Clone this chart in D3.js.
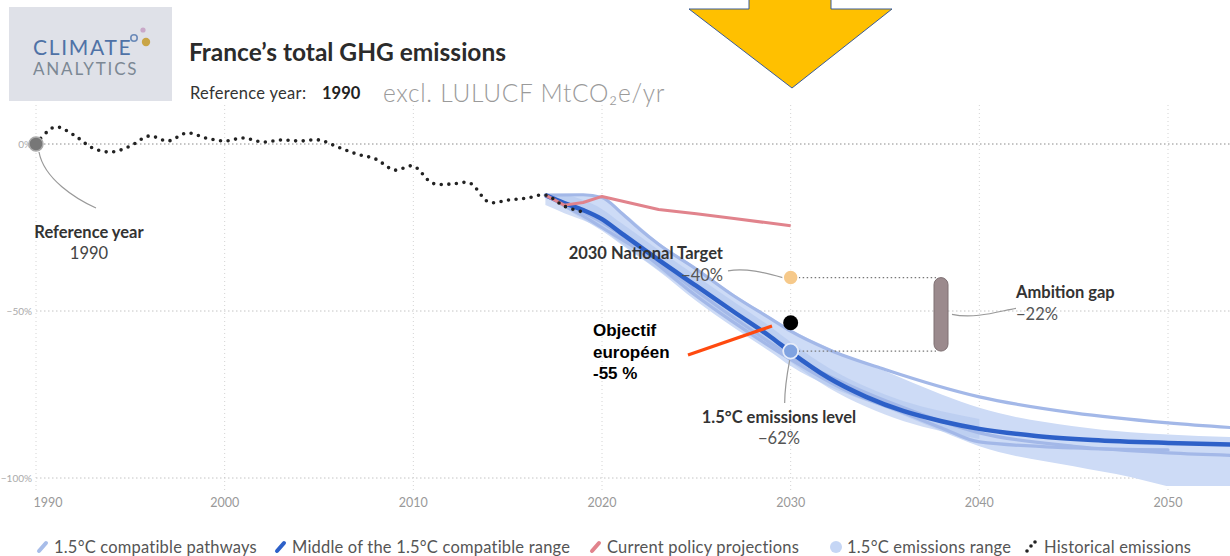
<!DOCTYPE html>
<html>
<head>
<meta charset="utf-8">
<script src="https://cdn.jsdelivr.net/npm/d3@7"></script>
<style>
  body { margin: 0; background: #fff; }
  svg { display: block; font-family: Lato, "Open Sans", sans-serif; }
</style>
</head>
<body>
<svg id="chart" width="1230" height="556"></svg>
<script>
// values are % change vs 1990
const historical = [[1990,0],[1991,5.1],[1992,2.7],[1993,-1.2],[1994,-2.4],[1995,-0.6],[1996,2.4],[1997,0.9],[1998,3.3],[1999,1.8],[2000,0.9],[2001,1.8],[2002,0.6],[2003,1.2],[2004,0.9],[2005,1.2],[2006,-0.9],[2007,-3.0],[2008,-4.5],[2009,-7.8],[2010,-6.6],[2011,-11.7],[2012,-12.0],[2013,-11.7],[2014,-17.4],[2015,-16.8],[2016,-16.2],[2017,-15.3],[2018,-18.6],[2019,-20.4]]

const middle = [[2017,-15.3],[2018,-17.7],[2019,-19.8],[2020,-22.5],[2021,-26.6],[2023,-34.7],[2025,-42.5],[2027,-50.3],[2029,-58],[2030,-62.3],[2032,-70],[2034,-75.7],[2036,-80],[2038,-83],[2040,-85.3],[2043,-87.4],[2046,-88.6],[2050,-89.5],[2055,-90.2]]

const pathwayA = [[2017,-15.3],[2019,-15.2],[2020,-16],[2021,-20.5],[2022,-25.5],[2023,-30],[2025,-37.5],[2027,-45.5],[2029,-52.5],[2030,-56],[2032,-61.5],[2035,-67.5],[2040,-75.7],[2045,-80.5],[2050,-83.5],[2055,-85.5]]
const pathwayB = [[2017,-15.3],[2018,-18.5],[2019,-21.5],[2020,-25],[2022,-32],[2025,-45.5],[2027,-53.5],[2030,-64.5],[2033,-74],[2036,-80.5],[2038,-85],[2040,-89.2],[2045,-91],[2050,-91.6]]
const pathwayC = [[2017,-15.3],[2020,-23.5],[2023,-35.5],[2025,-44],[2028,-56],[2030,-63.5],[2033,-72],[2036,-79],[2040,-86.5],[2045,-90.5],[2050,-92.5],[2055,-93.5]]

const rangeYears = [2017,2018,2019,2020,2021,2023,2025,2027,2029,2030,2032,2035,2038,2040,2045,2048,2050,2055]
const rangeTop   = [-15.3,-15,-15,-16,-20,-29.5,-37,-45,-52,-55.5,-61,-68,-75,-79,-84.5,-86.3,-87,-88]
const rangeBot   = [-15.3,-19,-22.5,-26,-30,-38,-47,-55,-62.5,-66.5,-72.5,-79,-86,-90.5,-96.5,-99.7,-102.5,-107]

const policy = [[2017,-15.3],[2018,-18.3],[2019,-17.5],[2020,-15.7],[2023,-19.6],[2025,-20.9],[2027,-22.3],[2030,-24.5]]

const refYear = 1990
const nationalTarget = -40
const levelPath = -62
const euTarget = -53.5   // drawn where the black dot sits
const gap = -22

const xTicks = [1990, 2000, 2010, 2020, 2030, 2040, 2050]
const yTicks = [0, -50, -100]
const legendItems = ["1.5°C compatible pathways", "Middle of the 1.5°C compatible range", "Current policy projections", "1.5°C emissions range", "Historical emissions"]

const svg = d3.select("#chart")

const x = d3.scaleLinear().domain([1990, 2050]).range([36, 1168])
const y = d3.scaleLinear().domain([0, -100]).range([144, 478])

// grid
const grid = svg.append("g")
grid.selectAll("line.v").data(xTicks).join("line")
  .attr("x1", d => x(d)).attr("x2", d => x(d))
  .attr("y1", 105).attr("y2", 490)
  .attr("stroke", "#d4d4d4").attr("stroke-dasharray", "1,3")
grid.selectAll("line.h").data(yTicks).join("line")
  .attr("x1", x(1990)).attr("x2", 1230)
  .attr("y1", d => y(d)).attr("y2", d => y(d))
  .attr("stroke", d => d === 0 ? "#8a8a8a" : "#c4c4c4")
  .attr("stroke-dasharray", "1.5,2.5")

grid.selectAll("text.y").data(yTicks).join("text")
  .attr("x", 32).attr("y", d => y(d) + 4)
  .attr("text-anchor", "end")
  .attr("font-size", 10).attr("fill", "#aaa")
  .text(d => d === 0 ? "0%" : "\u2212" + Math.abs(d) + "%")

grid.selectAll("text.x").data(xTicks).join("text")
  .attr("x", (d, i) => i === 0 ? x(d) + 12 : x(d)).attr("y", 507)
  .attr("text-anchor", "middle")
  .attr("font-size", 12.5).attr("fill", "#999")
  .text(d => d)

// clip for the plot area
svg.append("clipPath").attr("id", "plot")
  .append("rect").attr("x", 0).attr("y", 100).attr("width", 1230).attr("height", 386)

const plot = svg.append("g").attr("clip-path", "url(#plot)")

const line = d3.line().x(d => x(d[0])).y(d => y(d[1])).curve(d3.curveMonotoneX)

const area = d3.area()
  .x((d, i) => x(rangeYears[i]))
  .y0((d, i) => y(rangeBot[i]))
  .y1((d, i) => y(rangeTop[i]))
  .curve(d3.curveMonotoneX)

plot.append("path").datum(rangeYears).attr("d", area)
  .attr("fill", "#cddbf6")

// darker inner band around the middle pathway
const inner = d3.area()
  .x(d => x(d[0]))
  .y0(d => y(d[1] - 3))
  .y1(d => y(Math.min(d[1] + 3, -15.3)))
  .curve(d3.curveMonotoneX)
plot.append("path").datum(middle.filter(d => d[0] <= 2040)).attr("d", inner)
  .attr("fill", "#b2c6ef").attr("opacity", 0.6)

;[pathwayA, pathwayB, pathwayC].forEach(p => {
  plot.append("path").datum(p).attr("d", line)
    .attr("fill", "none").attr("stroke", "#a3b8e8")
    .attr("stroke-width", 3.2).attr("stroke-linecap", "round")
})

plot.append("path").datum(middle).attr("d", line)
  .attr("fill", "none").attr("stroke", "#2d60c8").attr("stroke-width", 4.5)

plot.append("path").datum(policy).attr("d", d3.line().x(d => x(d[0])).y(d => y(d[1])))
  .attr("fill", "none").attr("stroke", "#e1838c").attr("stroke-width", 3)
  .attr("stroke-linejoin", "round")

plot.append("path").datum(historical)
  .attr("d", d3.line().x(d => x(d[0])).y(d => y(d[1])).curve(d3.curveCatmullRom))
  .attr("fill", "none").attr("stroke", "#222").attr("stroke-width", 3.6)
  .attr("stroke-linecap", "round").attr("stroke-dasharray", "0,7.6")

// reference year marker
const ann = svg.append("g").attr("fill", "#333")
ann.append("path")
  .attr("d", `M${x(refYear) + 3},${y(0) + 8} C${x(refYear) + 8},${y(0) + 35} ${x(refYear) + 40},${y(0) + 55} ${x(refYear) + 60},${y(0) + 64}`)
  .attr("fill", "none").attr("stroke", "#999").attr("stroke-width", 1.2)
ann.append("circle").attr("cx", x(refYear)).attr("cy", y(0)).attr("r", 7)
  .attr("fill", "#777").attr("stroke", "#aaa").attr("stroke-width", 1.5)
ann.append("text").attr("x", 89).attr("y", 238).attr("text-anchor", "middle")
  .attr("font-size", 16.5).attr("font-weight", "bold").attr("fill", "#333").text("Reference year")
ann.append("text").attr("x", 89).attr("y", 259).attr("text-anchor", "middle")
  .attr("font-size", 16.5).attr("fill", "#444").text(refYear)

// dotted links to the ambition gap bar
const x30 = x(2030)
;[nationalTarget, levelPath].forEach(v => {
  ann.append("line").attr("x1", x30 + 8).attr("x2", 936)
    .attr("y1", y(v)).attr("y2", y(v))
    .attr("stroke", "#777").attr("stroke-width", 1.3).attr("stroke-dasharray", "1.5,2.5")
})

// ambition gap bar
ann.append("rect").attr("x", 934).attr("y", y(nationalTarget))
  .attr("width", 14).attr("height", y(levelPath) - y(nationalTarget))
  .attr("rx", 7).attr("fill", "#9b8a8d").attr("stroke", "#7e7073")
ann.append("path")
  .attr("d", `M952,${y(-51)} C975,${y(-52.5)} 1000,${y(-50)} 1016,${y(-49.2)}`)
  .attr("fill", "none").attr("stroke", "#999").attr("stroke-width", 1.2)
ann.append("text").attr("x", 1016).attr("y", 298)
  .attr("font-size", 16.5).attr("font-weight", "bold").attr("fill", "#333").text("Ambition gap")
ann.append("text").attr("x", 1016).attr("y", 320)
  .attr("font-size", 16.5).attr("fill", "#555").text("\u2212" + Math.abs(gap) + "%")

// national target
ann.append("path")
  .attr("d", `M728,${y(-38)} C745,${y(-37)} 765,${y(-38.5)} ${x30 - 8},${y(nationalTarget)}`)
  .attr("fill", "none").attr("stroke", "#999").attr("stroke-width", 1.2)
ann.append("circle").attr("cx", x30).attr("cy", y(nationalTarget)).attr("r", 7.5)
  .attr("fill", "#f6c98a").attr("stroke", "#fff").attr("stroke-width", 1.5)
ann.append("text").attr("x", 723).attr("y", 259).attr("text-anchor", "end")
  .attr("font-size", 16.5).attr("font-weight", "bold").attr("fill", "#333").text("2030 National Target")
ann.append("text").attr("x", 723).attr("y", 281).attr("text-anchor", "end")
  .attr("font-size", 16.5).attr("fill", "#555").text("\u2212" + Math.abs(nationalTarget) + "%")

// 1.5C level
ann.append("path")
  .attr("d", `M${x30 - 1},${y(levelPath) + 9} C${x30 - 4},${y(levelPath) + 25} ${x30 - 6},${y(levelPath) + 40} ${x30 - 6},${y(levelPath) + 52}`)
  .attr("fill", "none").attr("stroke", "#999").attr("stroke-width", 1.2)
ann.append("circle").attr("cx", x30).attr("cy", y(levelPath)).attr("r", 7.5)
  .attr("fill", "#7fa2e0").attr("stroke", "#e6ecf9").attr("stroke-width", 1.8)
ann.append("text").attr("x", 779).attr("y", 423).attr("text-anchor", "middle")
  .attr("font-size", 16.5).attr("font-weight", "bold").attr("fill", "#333").text("1.5°C emissions level")
ann.append("text").attr("x", 779).attr("y", 444).attr("text-anchor", "middle")
  .attr("font-size", 16.5).attr("fill", "#555").text("\u2212" + Math.abs(levelPath) + "%")

// European target added on top
ann.append("circle").attr("cx", x30).attr("cy", y(euTarget)).attr("r", 7.5).attr("fill", "#000")
ann.append("line").attr("x1", 688).attr("y1", 355).attr("x2", 772).attr("y2", 326)
  .attr("stroke", "#ff4a0f").attr("stroke-width", 3.2)
const eu = ann.append("text").attr("font-family", "Liberation Sans, Arial, sans-serif")
  .attr("font-size", 17).attr("font-weight", "bold").attr("fill", "#000")
;["Objectif", "européen", "-55 %"].forEach((t, i) => {
  eu.append("tspan").attr("x", 593).attr("y", 336 + i * 21.5).text(t)
})

// yellow arrow
svg.append("path")
  .attr("d", "M749,-2 L831,-2 L831,9 L892,9 L792,88 L689,9 L749,9 Z")
  .attr("fill", "#ffc000").attr("stroke", "#3b5c96").attr("stroke-width", 1)

// logo
const logo = svg.append("g")
logo.append("rect").attr("x", 9).attr("y", 7).attr("width", 163).attr("height", 94).attr("fill", "#dfe1e8")
logo.append("text").attr("x", 33).attr("y", 55).attr("font-family", "Lato, sans-serif")
  .attr("font-size", 21).attr("fill", "#4f72a6").attr("letter-spacing", 1.7).text("CLIMATE")
logo.append("text").attr("x", 33).attr("y", 75).attr("font-family", "Lato, sans-serif")
  .attr("font-size", 17).attr("fill", "#7c8894").attr("letter-spacing", 1.8).text("ANALYTICS")
logo.append("circle").attr("cx", 134).attr("cy", 38).attr("r", 3.2).attr("fill", "none").attr("stroke", "#6b8ab8").attr("stroke-width", 1.6)
logo.append("circle").attr("cx", 143).attr("cy", 30).attr("r", 2.6).attr("fill", "#c9a8c8")
logo.append("circle").attr("cx", 146).attr("cy", 42).attr("r", 4.2).attr("fill", "#c9a546")

// title
svg.append("text").attr("x", 189).attr("y", 61)
  .attr("font-size", 24.5).attr("font-weight", "bold").attr("fill", "#2b2b2b")
  .text("France’s total GHG emissions")
svg.append("text").attr("x", 190).attr("y", 99).attr("font-size", 16.5).attr("fill", "#333")
  .attr("letter-spacing", 0.3).text("Reference year:")
svg.append("text").attr("x", 322).attr("y", 99).attr("font-size", 16.5).attr("fill", "#222")
  .attr("font-weight", "bold").text(refYear)
svg.append("text").attr("x", 383).attr("y", 102)
  .attr("font-size", 24.5).attr("fill", "#9a9a9a").attr("font-weight", 300).attr("letter-spacing", 0.7)
  .text("excl. LULUCF MtCO₂e/yr")

// legend
const legX = [37, 275, 590, 830, 1025]
const leg = svg.append("g").attr("transform", "translate(0,547)")
const li = leg.selectAll("g").data(legendItems).join("g")
  .attr("transform", (d, i) => `translate(${legX[i]},0)`)
li.append("text").attr("x", (d, i) => i === 4 ? 19 : 17).attr("y", 6)
  .attr("font-size", 16.5).attr("letter-spacing", 0.2).attr("fill", "#555").text(d => d)
li.filter((d, i) => i < 3).append("line")
  .attr("x1", 2).attr("y1", 4).attr("x2", 9).attr("y2", -4)
  .attr("stroke", (d, i) => ["#a8bde9", "#2d60c8", "#e1838c"][i])
  .attr("stroke-width", 4).attr("stroke-linecap", "round")
li.filter((d, i) => i === 3).append("circle").attr("cx", 6).attr("cy", 0).attr("r", 6).attr("fill", "#c5d6f5")
li.filter((d, i) => i === 4).selectAll("circle").data([[2, 4], [6, -1], [10, -5]]).join("circle")
  .attr("cx", d => d[0]).attr("cy", d => d[1]).attr("r", 1.8).attr("fill", "#222")
</script>
</body>
</html>
